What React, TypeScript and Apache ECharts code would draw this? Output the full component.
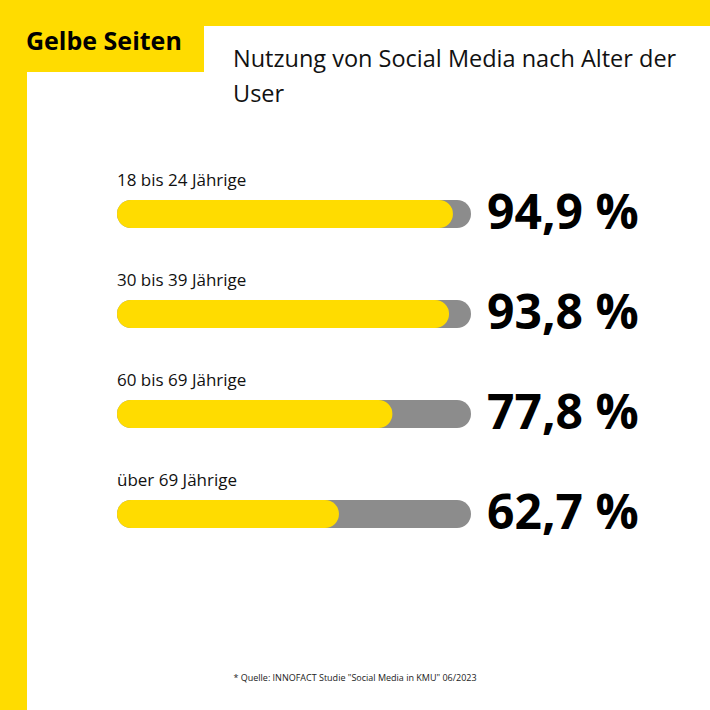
import React, { useEffect, useRef } from "react";
import * as echarts from "echarts";

const categories = ["18 bis 24 Jährige", "30 bis 39 Jährige", "60 bis 69 Jährige", "über 69 Jährige"];
const values = [94.9, 93.8, 77.8, 62.7];
const fullValues = [100, 100, 100, 100];
const valueLabels = ["94,9 %", "93,8 %", "77,8 %", "62,7 %"];

const YELLOW = "#FFDC00";
const GRAY = "#8C8C8C";
const FONT = "'Open Sans', 'Noto Sans', sans-serif";

export default function App() {
  const ref = useRef<HTMLDivElement>(null);
  useEffect(() => {
    if (!ref.current) return;
    const chart = echarts.init(ref.current, undefined, { renderer: "svg" });
    chart.setOption({
      animation: false,
      backgroundColor: "#ffffff",
      textStyle: { fontFamily: FONT },
      grid: { left: 117, width: 354, top: 164, height: 400 },
      xAxis: { type: "value", min: 0, max: 100, show: false },
      yAxis: {
        type: "category",
        data: categories,
        inverse: true,
        show: false,
      },
      graphic: [
        { type: "rect", shape: { x: 0, y: 0, width: 710, height: 26 }, style: { fill: YELLOW }, silent: true },
        { type: "rect", shape: { x: 0, y: 0, width: 27, height: 710 }, style: { fill: YELLOW }, silent: true },
        { type: "rect", shape: { x: 0, y: 0, width: 204, height: 72 }, style: { fill: YELLOW }, silent: true },
        {
          type: "text",
          x: 26,
          y: 40,
          style: {
            text: "Gelbe Seiten",
            fontFamily: FONT,
            fontSize: 25,
            fontWeight: "bold",
            fill: "#000",
            verticalAlign: "middle",
          },
        },
        {
          type: "text",
          x: 233,
          y: 40,
          style: {
            text: "Nutzung von Social Media nach Alter der\nUser",
            fontFamily: FONT,
            fontSize: 23.5,
            lineHeight: 35,
            fill: "#111",
            verticalAlign: "top",
          },
        },
        {
          type: "text",
          x: 355,
          y: 677,
          style: {
            text: "* Quelle: INNOFACT Studie \"Social Media in KMU\" 06/2023",
            fontFamily: FONT,
            fontSize: 9,
            fill: "#222",
            align: "center",
            verticalAlign: "middle",
          },
        },
      ],
      series: [
        {
          type: "bar",
          data: fullValues,
          barWidth: 28,
          barGap: "-100%",
          itemStyle: { color: GRAY, borderRadius: 14 },
          silent: true,
          label: {
            show: true,
            position: "right",
            distance: 16,
            offset: [0, -4],
            formatter: (p: any) => valueLabels[p.dataIndex],
            fontFamily: FONT,
            fontSize: 48,
            fontWeight: "bold",
            color: "#000",
          },
          z: 1,
        },
        {
          type: "bar",
          data: values,
          barWidth: 28,
          barGap: "-100%",
          itemStyle: { color: YELLOW, borderRadius: 14 },
          silent: true,
          label: {
            show: true,
            position: [0, -29],
            formatter: (p: any) => categories[p.dataIndex],
            fontFamily: FONT,
            fontSize: 17,
            color: "#111",
            align: "left",
          },
          z: 2,
        },
      ],
    });
    return () => chart.dispose();
  }, []);
  return (
    <div
      ref={ref}
      style={{ position: "fixed", left: 0, top: 0, width: 710, height: 710 }}
    />
  );
}
